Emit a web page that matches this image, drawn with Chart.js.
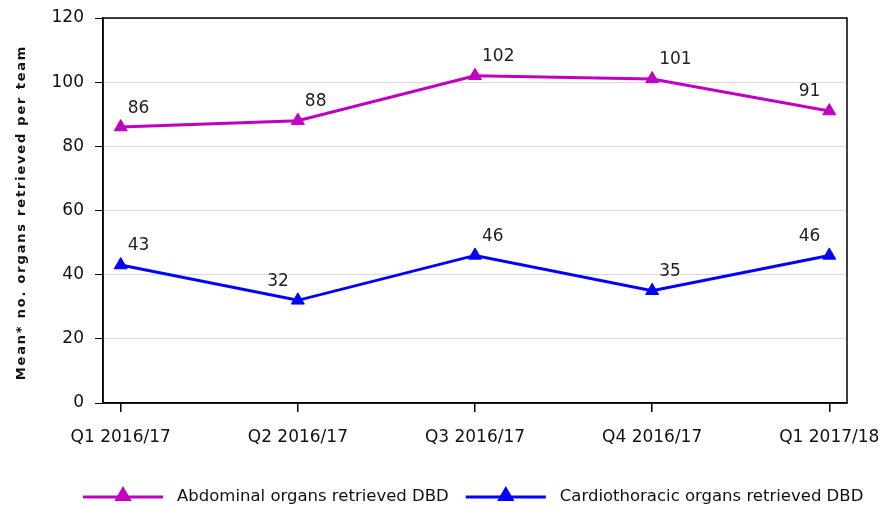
<!DOCTYPE html>
<html>
<head>
<meta charset="utf-8">
<script src="https://cdn.jsdelivr.net/npm/chart.js@4/dist/chart.umd.min.js"></script>
<style>
  html, body { margin: 0; padding: 0; background: #fff; }
  #wrap { width: 888px; height: 508px; }
</style>
</head>
<body>
<div id="wrap"><canvas id="chart" width="888" height="508"></canvas></div>
<script>
// quarters along the x axis
const quarters = ["Q1 2016/17", "Q2 2016/17", "Q3 2016/17", "Q4 2016/17", "Q1 2017/18"]
// mean organs retrieved per team
const abdominal = [86, 88, 102, 101, 91]
const cardiothoracic = [43, 32, 46, 35, 46]
const seriesNames = ["Abdominal organs retrieved DBD", "Cardiothoracic organs retrieved DBD"]
const yTicks = [0, 20, 40, 60, 80, 100, 120]
const yTitle = "Mean* no. organs retrieved per team"

const FONT = "'DejaVu Sans', Verdana, sans-serif"

function toPoints(arr) {
    return arr.map((v, i) => ({ x: i, y: v }))
}

// value labels next to each marker; side says left or right of the point
const valueLabels = {
    id: "valueLabels",
    afterDatasetsDraw(chart, args, opts) {
        const ctx = chart.ctx
        ctx.save()
        ctx.font = "17px " + FONT
        ctx.fillStyle = "#222"
        ctx.textBaseline = "middle"
        chart.data.datasets.forEach((ds, di) => {
            const meta = chart.getDatasetMeta(di)
            meta.data.forEach((pt, i) => {
                if (opts.sides[di][i] == "L") {
                    ctx.textAlign = "right"
                    ctx.fillText(String(ds.data[i].y), pt.x - 9, pt.y - 19)
                } else {
                    ctx.textAlign = "left"
                    ctx.fillText(String(ds.data[i].y), pt.x + 7, pt.y - 19)
                }
            })
        })
        ctx.restore()
    }
}

// box round the plot area, spaced-out y title and the legend underneath
const frameAndLegend = {
    id: "frameAndLegend",
    afterDraw(chart) {
        const ctx = chart.ctx
        const a = chart.chartArea
        ctx.save()
        ctx.strokeStyle = "#000"
        ctx.lineWidth = 1.5
        ctx.strokeRect(a.left, a.top, a.right - a.left, a.bottom - a.top)

        ctx.save()
        ctx.translate(22, (a.top + a.bottom) / 2 + 2)
        ctx.rotate(-Math.PI / 2)
        ctx.font = "bold 13px " + FONT
        ctx.letterSpacing = "1.8px"
        ctx.fillStyle = "#111"
        ctx.textAlign = "center"
        ctx.textBaseline = "middle"
        ctx.fillText(yTitle, 0, 0)
        ctx.restore()

        const y = 497
        let x = 83
        ctx.font = "16.5px " + FONT
        ctx.textBaseline = "middle"
        ctx.textAlign = "left"
        chart.data.datasets.forEach((ds) => {
            ctx.strokeStyle = ds.borderColor
            ctx.fillStyle = ds.borderColor
            ctx.lineWidth = 3
            ctx.beginPath()
            ctx.moveTo(x, y)
            ctx.lineTo(x + 80, y)
            ctx.stroke()
            Chart.helpers.drawPoint(ctx, { pointStyle: "triangle", radius: 7, rotation: 0, borderWidth: 1 }, x + 40, y - 1)
            ctx.fillStyle = "#111"
            ctx.fillText(ds.label, x + 94, y)
            x += 94 + ctx.measureText(ds.label).width + 17
        })
        ctx.restore()
    }
}

new Chart(document.getElementById("chart"), {
    type: "line",
    data: {
        datasets: [{
            label: seriesNames[0],
            data: toPoints(abdominal),
            borderColor: "#C000C0",
            backgroundColor: "#C000C0",
            borderWidth: 3,
            pointStyle: "triangle",
            pointRadius: 7.5,
            pointBorderWidth: 1,
            tension: 0
        },
        {
            label: seriesNames[1],
            data: toPoints(cardiothoracic),
            borderColor: "#0000FF",
            backgroundColor: "#0000FF",
            borderWidth: 3,
            pointStyle: "triangle",
            pointRadius: 7.5,
            pointBorderWidth: 1,
            tension: 0
        }]
    },
    options: {
        responsive: false,
        animation: false,
        layout: { padding: { left: 0, right: 41, top: 18, bottom: 0 } },
        plugins: {
            legend: { display: false },
            tooltip: { enabled: false },
            valueLabels: {
                sides: [["R", "R", "R", "R", "L"], ["R", "L", "R", "R", "L"]]
            }
        },
        scales: {
            x: {
                type: "linear",
                min: -0.1,
                max: 4.1,
                afterFit: (s) => {
                    s.height = 105
                    s.paddingLeft = 0
                    s.paddingRight = 0
                },
                afterBuildTicks: (s) => { s.ticks = quarters.map((q, i) => ({ value: i })) },
                ticks: {
                    font: { family: FONT, size: 17 },
                    color: "#111",
                    padding: 15,
                    maxRotation: 0,
                    autoSkip: false,
                    callback: (v) => quarters[v]
                },
                grid: { drawOnChartArea: false, tickLength: 9, tickColor: "#000", lineWidth: 1.5 },
                border: { color: "#000", width: 1.5 }
            },
            y: {
                min: 0,
                max: 120,
                afterFit: (s) => {
                    s.width = 103
                    s.paddingTop = 0
                    s.paddingBottom = 0
                },
                afterBuildTicks: (s) => { s.ticks = yTicks.map((v) => ({ value: v })) },
                ticks: {
                    font: { family: FONT, size: 17 },
                    color: "#111",
                    padding: 11
                },
                grid: { color: "#d9d9d9", lineWidth: 1, tickLength: 8, tickColor: "#000" },
                border: { color: "#000", width: 1.5 }
            }
        }
    },
    plugins: [valueLabels, frameAndLegend]
})
</script>
</body>
</html>
